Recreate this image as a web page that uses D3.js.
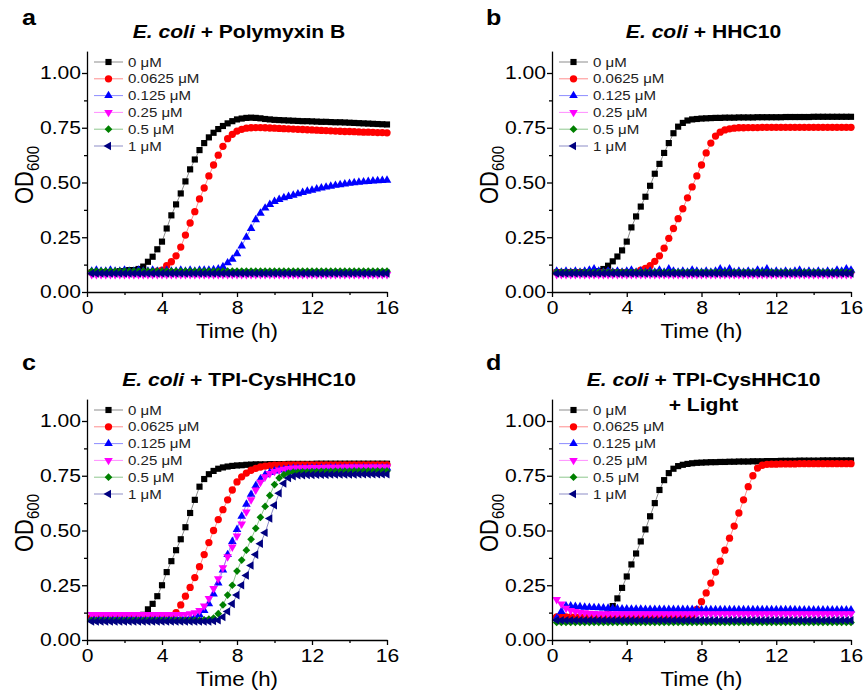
<!DOCTYPE html>
<html><head><meta charset="utf-8">
<script src="https://cdn.jsdelivr.net/npm/d3@7"></script>
<style>body{margin:0;background:#fff} svg{display:block}</style>
</head><body>
<script>
// ---------- DATA ----------
const time = [0.25,0.5,0.75,1,1.25,1.5,1.75,2,2.25,2.5,2.75,3,3.25,3.5,3.75,4,
4.25,4.5,4.75,5,5.25,5.5,5.75,6,6.25,6.5,6.75,7,7.25,7.5,7.75,8,
8.25,8.5,8.75,9,9.25,9.5,9.75,10,10.25,10.5,10.75,11,11.25,11.5,11.75,12,
12.25,12.5,12.75,13,13.25,13.5,13.75,14,14.25,14.5,14.75,15,15.25,15.5,15.75,16];

const concLabels = ["0 μM","0.0625 μM","0.125 μM","0.25 μM","0.5 μM","1 μM"];
const yTicks = [0,0.25,0.5,0.75,1.0];
const yMinor = [0.125,0.375,0.625,0.875];
const xTicks = [0,4,8,12,16];
const xMinor = [2,6,10,14];

// Panel a: E. coli + Polymyxin B
const polyB_0 = [0.09,0.09,0.09,0.09,0.09,0.09,0.095,0.095,0.10,0.10,0.105,0.116,0.138,0.161,0.195,0.23,
0.29,0.35,0.40,0.45,0.505,0.56,0.605,0.648,0.68,0.706,0.727,0.744,0.758,0.77,0.78,0.788,
0.792,0.795,0.796,0.795,0.793,0.79,0.788,0.786,0.785,0.784,0.783,0.782,0.781,0.78,0.78,0.779,
0.778,0.777,0.777,0.776,0.775,0.775,0.774,0.773,0.772,0.771,0.77,0.769,0.768,0.767,0.766,0.765];
const polyB_1 = [0.09,0.09,0.09,0.09,0.09,0.09,0.09,0.09,0.09,0.09,0.09,0.09,0.09,0.09,0.095,0.10,
0.12,0.138,0.165,0.205,0.26,0.315,0.367,0.425,0.475,0.53,0.58,0.625,0.665,0.70,0.72,0.735,
0.743,0.748,0.75,0.751,0.751,0.75,0.749,0.748,0.747,0.746,0.745,0.744,0.743,0.742,0.741,0.74,
0.739,0.738,0.737,0.736,0.735,0.734,0.733,0.733,0.732,0.731,0.73,0.73,0.729,0.728,0.728,0.727];
const polyB_2 = [0.095,0.10,0.095,0.095,0.10,0.095,0.095,0.10,0.095,0.095,0.10,0.095,0.095,0.10,0.095,0.095,
0.10,0.095,0.095,0.10,0.095,0.10,0.095,0.10,0.10,0.10,0.102,0.105,0.115,0.133,0.15,0.175,
0.21,0.25,0.29,0.33,0.36,0.383,0.40,0.413,0.422,0.43,0.436,0.442,0.448,0.454,0.46,0.465,
0.47,0.475,0.479,0.483,0.487,0.49,0.493,0.496,0.499,0.501,0.503,0.505,0.507,0.508,0.509,0.51];
const polyB_3 = [0.08,0.08,0.08,0.08,0.08,0.08,0.08,0.08,0.08,0.08,0.08,0.08,0.08,0.08,0.08,0.08,
0.08,0.08,0.08,0.08,0.08,0.08,0.08,0.08,0.08,0.08,0.08,0.08,0.08,0.08,0.08,0.08,
0.08,0.08,0.08,0.08,0.08,0.08,0.08,0.08,0.08,0.08,0.08,0.08,0.08,0.08,0.08,0.08,
0.08,0.08,0.08,0.08,0.08,0.08,0.08,0.08,0.08,0.08,0.08,0.08,0.08,0.08,0.08,0.08];
const polyB_4 = [0.095,0.095,0.095,0.095,0.095,0.095,0.095,0.095,0.095,0.095,0.095,0.095,0.095,0.095,0.095,0.095,
0.095,0.095,0.095,0.095,0.095,0.095,0.095,0.095,0.095,0.095,0.095,0.095,0.095,0.095,0.095,0.095,
0.095,0.095,0.095,0.095,0.095,0.095,0.095,0.095,0.095,0.095,0.095,0.095,0.095,0.095,0.095,0.095,
0.095,0.095,0.095,0.095,0.095,0.095,0.095,0.095,0.095,0.095,0.095,0.095,0.095,0.095,0.095,0.095];
const polyB_5 = [0.085,0.085,0.085,0.085,0.085,0.085,0.085,0.085,0.085,0.085,0.085,0.085,0.085,0.085,0.085,0.085,
0.085,0.085,0.085,0.085,0.085,0.085,0.085,0.085,0.085,0.085,0.085,0.085,0.085,0.085,0.085,0.085,
0.085,0.085,0.085,0.085,0.085,0.085,0.085,0.085,0.085,0.085,0.085,0.085,0.085,0.085,0.085,0.085,
0.085,0.085,0.085,0.085,0.085,0.085,0.085,0.085,0.085,0.085,0.085,0.085,0.085,0.085,0.085,0.085];

// Panel b: E. coli + HHC10
const hhc_0 = [0.09,0.09,0.09,0.09,0.09,0.09,0.09,0.09,0.09,0.095,0.105,0.12,0.14,0.162,0.19,0.23,
0.295,0.345,0.39,0.435,0.485,0.54,0.585,0.635,0.68,0.725,0.755,0.772,0.783,0.788,0.79,0.792,
0.793,0.794,0.795,0.795,0.796,0.796,0.796,0.797,0.797,0.797,0.797,0.798,0.798,0.798,0.798,0.798,
0.798,0.799,0.799,0.799,0.799,0.799,0.799,0.80,0.80,0.80,0.80,0.80,0.80,0.80,0.80,0.80];
const hhc_1 = [0.09,0.09,0.09,0.09,0.09,0.09,0.09,0.09,0.09,0.09,0.09,0.09,0.09,0.09,0.09,0.09,
0.09,0.09,0.10,0.108,0.12,0.14,0.165,0.20,0.245,0.29,0.335,0.38,0.43,0.48,0.53,0.58,
0.635,0.68,0.712,0.73,0.74,0.745,0.748,0.75,0.75,0.751,0.751,0.751,0.752,0.752,0.752,0.752,
0.752,0.752,0.752,0.752,0.752,0.752,0.752,0.752,0.752,0.752,0.752,0.752,0.752,0.752,0.752,0.752];
const hhc_2 = [0.095,0.09,0.095,0.09,0.095,0.09,0.095,0.10,0.105,0.095,0.09,0.095,0.09,0.095,0.09,0.095,
0.10,0.09,0.095,0.09,0.095,0.09,0.10,0.09,0.105,0.095,0.09,0.095,0.09,0.10,0.095,0.09,
0.095,0.09,0.095,0.105,0.095,0.105,0.09,0.095,0.09,0.095,0.09,0.10,0.095,0.105,0.09,0.095,
0.09,0.095,0.09,0.095,0.10,0.09,0.095,0.09,0.095,0.09,0.095,0.09,0.10,0.095,0.105,0.10];
const hhc_3 = [0.08,0.08,0.08,0.08,0.08,0.08,0.08,0.08,0.08,0.08,0.08,0.08,0.08,0.08,0.08,0.08,
0.08,0.08,0.08,0.08,0.08,0.08,0.08,0.08,0.08,0.08,0.08,0.08,0.08,0.08,0.08,0.08,
0.08,0.08,0.08,0.08,0.08,0.08,0.08,0.08,0.08,0.08,0.08,0.08,0.08,0.08,0.08,0.08,
0.08,0.08,0.08,0.08,0.08,0.08,0.08,0.08,0.08,0.08,0.08,0.08,0.08,0.08,0.08,0.08];
const hhc_4 = [0.09,0.09,0.09,0.09,0.09,0.09,0.09,0.09,0.09,0.09,0.09,0.09,0.09,0.09,0.09,0.09,
0.09,0.09,0.09,0.09,0.09,0.09,0.09,0.09,0.09,0.09,0.09,0.09,0.09,0.09,0.09,0.09,
0.09,0.09,0.09,0.09,0.09,0.09,0.09,0.09,0.09,0.09,0.09,0.09,0.09,0.09,0.09,0.09,
0.09,0.09,0.09,0.09,0.09,0.09,0.09,0.09,0.09,0.09,0.09,0.09,0.09,0.09,0.09,0.09];
const hhc_5 = [0.085,0.085,0.085,0.085,0.085,0.085,0.085,0.085,0.085,0.085,0.085,0.085,0.085,0.085,0.085,0.085,
0.085,0.085,0.085,0.085,0.085,0.085,0.085,0.085,0.085,0.085,0.085,0.085,0.085,0.085,0.085,0.085,
0.085,0.085,0.085,0.085,0.085,0.085,0.085,0.085,0.085,0.085,0.085,0.085,0.085,0.085,0.085,0.085,
0.085,0.085,0.085,0.085,0.085,0.085,0.085,0.085,0.085,0.085,0.085,0.085,0.085,0.085,0.085,0.085];

// Panel c: E. coli + TPI-CysHHC10
const tpi_0 = [0.10,0.10,0.10,0.10,0.10,0.10,0.10,0.10,0.10,0.10,0.105,0.115,0.14,0.165,0.20,0.25,
0.31,0.36,0.41,0.46,0.515,0.58,0.64,0.70,0.735,0.757,0.772,0.782,0.788,0.792,0.795,0.797,
0.798,0.80,0.801,0.802,0.802,0.802,0.803,0.803,0.803,0.803,0.804,0.804,0.804,0.804,0.804,0.804,
0.805,0.805,0.805,0.805,0.805,0.805,0.805,0.805,0.805,0.805,0.805,0.805,0.805,0.805,0.805,0.805];
const tpi_1 = [0.105,0.105,0.105,0.105,0.105,0.105,0.105,0.105,0.105,0.105,0.105,0.105,0.105,0.105,0.105,0.105,
0.105,0.11,0.125,0.16,0.20,0.24,0.285,0.335,0.39,0.445,0.50,0.55,0.595,0.64,0.685,0.722,
0.745,0.762,0.775,0.784,0.79,0.794,0.796,0.798,0.798,0.799,0.799,0.799,0.80,0.80,0.80,0.80,
0.80,0.80,0.80,0.80,0.80,0.80,0.80,0.80,0.80,0.80,0.80,0.80,0.80,0.80,0.80,0.80];
const tpi_2 = [0.10,0.10,0.10,0.10,0.10,0.10,0.10,0.10,0.10,0.10,0.10,0.10,0.10,0.10,0.10,0.10,
0.10,0.10,0.10,0.10,0.10,0.10,0.105,0.115,0.135,0.165,0.21,0.26,0.32,0.39,0.45,0.505,
0.565,0.62,0.665,0.705,0.735,0.755,0.765,0.772,0.776,0.779,0.781,0.783,0.783,0.783,0.784,0.784,
0.784,0.784,0.784,0.785,0.785,0.785,0.785,0.785,0.785,0.785,0.785,0.785,0.785,0.785,0.785,0.785];
const tpi_3 = [0.117,0.117,0.117,0.117,0.117,0.117,0.117,0.117,0.117,0.117,0.117,0.117,0.117,0.117,0.117,0.117,
0.117,0.117,0.117,0.117,0.117,0.12,0.125,0.135,0.155,0.19,0.235,0.28,0.33,0.38,0.425,0.475,
0.53,0.585,0.64,0.685,0.72,0.745,0.76,0.77,0.776,0.78,0.783,0.785,0.786,0.787,0.787,0.788,
0.788,0.788,0.789,0.789,0.789,0.789,0.79,0.79,0.79,0.79,0.79,0.79,0.79,0.79,0.79,0.79];
const tpi_4 = [0.09,0.09,0.09,0.09,0.09,0.09,0.09,0.09,0.09,0.09,0.09,0.09,0.09,0.09,0.09,0.09,
0.09,0.09,0.09,0.09,0.09,0.09,0.09,0.09,0.092,0.095,0.10,0.12,0.16,0.205,0.25,0.315,
0.365,0.41,0.46,0.51,0.56,0.61,0.66,0.71,0.74,0.755,0.762,0.766,0.767,0.768,0.768,0.769,
0.769,0.77,0.77,0.77,0.771,0.771,0.771,0.771,0.772,0.772,0.772,0.772,0.772,0.772,0.772,0.772];
const tpi_5 = [0.085,0.085,0.085,0.085,0.085,0.085,0.085,0.085,0.085,0.085,0.085,0.085,0.085,0.085,0.085,0.085,
0.085,0.085,0.085,0.085,0.085,0.085,0.085,0.085,0.085,0.085,0.087,0.09,0.105,0.13,0.165,0.205,
0.25,0.295,0.34,0.39,0.44,0.49,0.555,0.615,0.67,0.715,0.74,0.748,0.752,0.753,0.754,0.754,
0.755,0.755,0.755,0.756,0.756,0.756,0.756,0.756,0.756,0.757,0.757,0.757,0.757,0.757,0.757,0.757];

// Panel d: E. coli + TPI-CysHHC10 + Light
const light_0 = [0.10,0.10,0.10,0.10,0.10,0.10,0.10,0.10,0.10,0.10,0.105,0.12,0.155,0.19,0.238,0.29,
0.345,0.395,0.45,0.505,0.565,0.625,0.685,0.73,0.762,0.782,0.794,0.80,0.804,0.807,0.809,0.81,
0.811,0.812,0.812,0.813,0.813,0.814,0.814,0.815,0.815,0.815,0.816,0.816,0.816,0.817,0.817,0.817,
0.818,0.818,0.818,0.818,0.819,0.819,0.819,0.819,0.819,0.82,0.82,0.82,0.82,0.82,0.82,0.82];
const light_1 = [0.105,0.105,0.105,0.105,0.105,0.105,0.105,0.105,0.105,0.105,0.105,0.105,0.105,0.105,0.105,0.105,
0.105,0.105,0.105,0.105,0.105,0.105,0.105,0.105,0.105,0.105,0.105,0.105,0.105,0.11,0.14,0.175,
0.215,0.26,0.31,0.36,0.41,0.465,0.52,0.58,0.64,0.70,0.75,0.785,0.798,0.802,0.803,0.803,
0.804,0.804,0.804,0.804,0.805,0.805,0.805,0.805,0.805,0.805,0.805,0.805,0.805,0.805,0.805,0.805];
const light_2 = [0.10,0.13,0.155,0.155,0.153,0.152,0.15,0.149,0.148,0.147,0.146,0.145,0.144,0.143,0.142,0.142,
0.141,0.141,0.141,0.14,0.14,0.14,0.14,0.14,0.139,0.139,0.139,0.139,0.139,0.139,0.138,0.138,
0.138,0.138,0.138,0.138,0.138,0.138,0.138,0.138,0.138,0.138,0.138,0.138,0.138,0.138,0.138,0.138,
0.138,0.138,0.138,0.138,0.137,0.137,0.137,0.137,0.137,0.137,0.137,0.137,0.137,0.137,0.137,0.137];
const light_3 = [0.185,0.165,0.145,0.135,0.13,0.126,0.124,0.122,0.121,0.12,0.12,0.12,0.12,0.12,0.12,0.12,
0.12,0.12,0.12,0.12,0.12,0.12,0.12,0.12,0.12,0.12,0.12,0.12,0.12,0.12,0.12,0.12,
0.12,0.12,0.12,0.12,0.12,0.12,0.12,0.12,0.12,0.12,0.12,0.12,0.12,0.12,0.12,0.12,
0.12,0.12,0.12,0.12,0.12,0.12,0.12,0.12,0.12,0.12,0.12,0.12,0.12,0.12,0.12,0.12];
const light_4 = [0.08,0.08,0.08,0.08,0.08,0.08,0.08,0.08,0.08,0.08,0.08,0.08,0.08,0.08,0.08,0.08,
0.08,0.08,0.08,0.08,0.08,0.08,0.08,0.08,0.08,0.08,0.08,0.08,0.08,0.08,0.08,0.08,
0.08,0.08,0.08,0.08,0.08,0.08,0.08,0.08,0.08,0.08,0.08,0.08,0.08,0.08,0.08,0.08,
0.08,0.08,0.08,0.08,0.08,0.08,0.08,0.08,0.08,0.08,0.08,0.08,0.08,0.08,0.08,0.08];
const light_5 = [0.09,0.09,0.09,0.09,0.09,0.09,0.09,0.09,0.09,0.09,0.09,0.09,0.09,0.09,0.09,0.09,
0.09,0.09,0.09,0.09,0.09,0.09,0.09,0.09,0.09,0.09,0.09,0.09,0.09,0.09,0.09,0.09,
0.09,0.09,0.09,0.09,0.09,0.09,0.09,0.09,0.09,0.09,0.09,0.09,0.09,0.09,0.09,0.09,
0.09,0.09,0.09,0.09,0.09,0.09,0.09,0.09,0.09,0.09,0.09,0.09,0.09,0.09,0.09,0.09];

// ---------- STYLE ----------
const seriesColors = ["#000000","#ff0000","#0000ff","#ff00ff","#008000","#000080"];
const symTypes = [d3.symbolSquare, d3.symbolCircle, d3.symbolTriangle, d3.symbolTriangle, d3.symbolSquare, d3.symbolTriangle];
const symRot = [0, 0, 0, 180, 45, -90];
const symSize = [38, 42, 32, 32, 30, 32];
const FONT = "'Liberation Sans', Arial, sans-serif";
const SX = 1.14; // horizontal stretch of the original figure's text

const panels = [
  {letter:"a", left:87, right:387, bottom:292, lx:22, ly:25, titleRest:" + Polymyxin B", title2:null, series:[polyB_0,polyB_1,polyB_2,polyB_3,polyB_4,polyB_5]},
  {letter:"b", left:552, right:851, bottom:292, lx:486, ly:25, titleRest:" + HHC10", title2:null, series:[hhc_0,hhc_1,hhc_2,hhc_3,hhc_4,hhc_5]},
  {letter:"c", left:87, right:387, bottom:640, lx:22, ly:370, titleRest:" + TPI-CysHHC10", title2:null, series:[tpi_0,tpi_1,tpi_2,tpi_3,tpi_4,tpi_5]},
  {letter:"d", left:552, right:851, bottom:640, lx:486, ly:370, titleRest:" + TPI-CysHHC10", title2:"+ Light", series:[light_0,light_1,light_2,light_3,light_4,light_5]}
];

const svg = d3.select("body").append("svg").attr("width",866).attr("height",696)
  .style("font-family",FONT);
svg.append("rect").attr("width",866).attr("height",696).attr("fill","#fff");

function stretch(sel){
  sel.each(function(){
    const t = d3.select(this);
    const x = +t.attr("x") || 0, y = +t.attr("y") || 0;
    t.attr("x",0).attr("y",0).attr("transform",`translate(${x},${y}) scale(${SX},1)`);
  });
}

panels.forEach(p => {
  const top = p.bottom - 292;
  const x = d3.scaleLinear().domain([0,16]).range([p.left,p.right]);
  const y = d3.scaleLinear().domain([0,1.1]).range([p.bottom, p.bottom-240.9]);
  const g = svg.append("g");

  // series
  p.series.forEach((vals,si) => {
    const pts = time.map((t,i)=>[t,vals[i]]);
    g.append("path")
      .attr("d", d3.line().x(d=>x(d[0])).y(d=>y(d[1]))(pts))
      .attr("fill","none").attr("stroke",seriesColors[si])
      .attr("stroke-width",0.9).attr("stroke-opacity",0.5);
    const sym = d3.symbol().type(symTypes[si]).size(symSize[si]);
    g.append("g").selectAll("path").data(pts).join("path")
      .attr("transform", d=>`translate(${x(d[0])},${y(d[1])}) rotate(${symRot[si]})`)
      .attr("d", sym).attr("fill", seriesColors[si]);
  });

  // axes
  const yAx = g.append("g").attr("transform",`translate(${p.left},0)`)
    .call(d3.axisLeft(y).tickValues(yTicks).tickFormat(d3.format(".2f")).tickSize(5).tickPadding(1).tickSizeOuter(0));
  g.append("g").attr("transform",`translate(${p.left},0)`)
    .call(d3.axisLeft(y).tickValues(yMinor).tickFormat("").tickSize(3).tickSizeOuter(0))
    .select(".domain").remove();
  const xAx = g.append("g").attr("transform",`translate(0,${p.bottom})`)
    .call(d3.axisBottom(x).tickValues(xTicks).tickSize(5).tickPadding(4).tickSizeOuter(0));
  g.append("g").attr("transform",`translate(0,${p.bottom})`)
    .call(d3.axisBottom(x).tickValues(xMinor).tickFormat("").tickSize(3).tickSizeOuter(0))
    .select(".domain").remove();
  g.selectAll(".domain, .tick line").attr("stroke","#000").attr("stroke-width",1.3);
  [yAx,xAx].forEach(a => {
    a.selectAll("text").attr("font-family",FONT).attr("font-size",18.5).attr("fill","#000");
    stretch(a.selectAll("text"));
  });

  // axis titles
  const xt = g.append("text").attr("x",(p.left+p.right)/2).attr("y",p.bottom+46)
    .attr("text-anchor","middle").attr("font-size",19.5).attr("fill","#000").text("Time (h)");
  stretch(xt);
  const yl = g.append("text").attr("text-anchor","middle").attr("fill","#000")
    .attr("transform",`translate(${p.left-54},${top+175}) scale(${SX},1) rotate(-90)`);
  yl.append("tspan").attr("font-size",22).text("OD");
  yl.append("tspan").attr("font-size",15).attr("dy",5).text("600");

  // panel letter
  const lt = g.append("text").attr("x",p.lx).attr("y",p.ly).attr("font-size",22).attr("font-weight","bold").text(p.letter);
  stretch(lt);

  // title
  const cx = (p.left+p.right)/2 + 2;
  const tt = g.append("text").attr("x",cx).attr("y",top+38).attr("text-anchor","middle")
    .attr("font-size",18.5).attr("font-weight","bold").attr("fill","#000");
  tt.append("tspan").attr("font-style","italic").text("E. coli");
  tt.append("tspan").text(p.titleRest);
  stretch(tt);
  if (p.title2) {
    const t2 = g.append("text").attr("x",cx).attr("y",top+63).attr("text-anchor","middle")
      .attr("font-size",18.5).attr("font-weight","bold").attr("fill","#000").text(p.title2);
    stretch(t2);
  }

  // legend
  concLabels.forEach((lab,si) => {
    const ry = top + 62 + si*16.8;
    g.append("line").attr("x1",p.left+7).attr("x2",p.left+36).attr("y1",ry).attr("y2",ry)
      .attr("stroke",seriesColors[si]).attr("stroke-width",0.9).attr("stroke-opacity",0.5);
    g.append("path").attr("transform",`translate(${p.left+21.5},${ry}) rotate(${symRot[si]})`)
      .attr("d", d3.symbol().type(symTypes[si]).size(symSize[si])()).attr("fill",seriesColors[si]);
    const lt2 = g.append("text").attr("x",p.left+41).attr("y",ry+4.6).attr("font-size",13.2)
      .attr("fill","#222").text(lab);
    stretch(lt2);
  });
});
</script>
</body></html>
